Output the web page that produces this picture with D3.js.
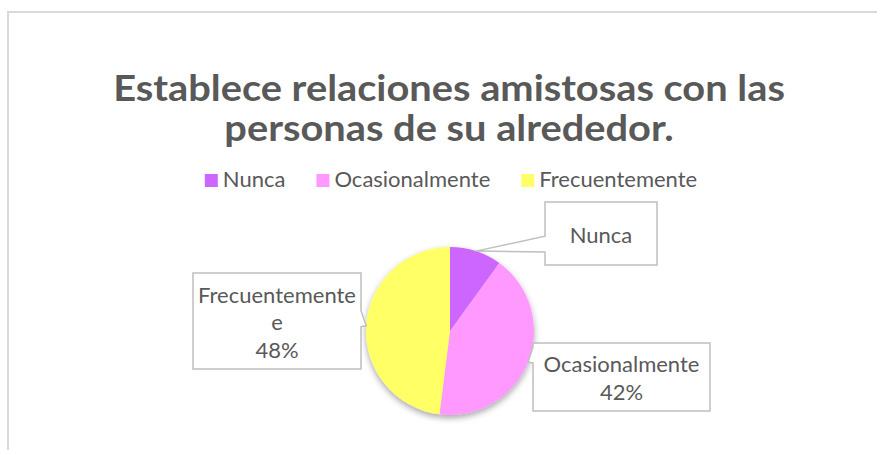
<!DOCTYPE html>
<html>
<head>
<meta charset="utf-8">
<script src="https://cdn.jsdelivr.net/npm/d3@7"></script>
<style>
  body { margin: 0; background: #fff; }
  svg { display: block; }
  text { font-family: Lato, "Noto Sans", sans-serif; fill: #595959; }
</style>
</head>
<body>
<svg id="chart" width="877" height="450"></svg>
<script>
// data
categories = ["Nunca", "Ocasionalmente", "Frecuentemente"]
values = [10, 42, 48]
colors = ["#CC66FF", "#FF99FF", "#FFFF66"]
titleLines = ["Establece relaciones amistosas con las", "personas de su alrededor."]
// label text as shown in the chart (Nunca has no percentage)
labelLines = [["Nunca"], ["Ocasionalmente", "42%"], ["Frecuentemente", "e", "48%"]]

const svg = d3.select("#chart")
const cx = 450, cy = 331, r = 84
const fs = 22

// chart area border
svg.append("rect").attr("x", 8).attr("y", 12).attr("width", 900).attr("height", 500)
  .attr("fill", "#fff").attr("stroke", "#d9d9d9").attr("stroke-width", 2)

// title, squeezed sideways to the original line width
const title = svg.append("g")
title.selectAll("text").data(titleLines).join("text")
  .attr("x", 0).attr("y", (d, i) => 101 + i * 40)
  .attr("text-anchor", "middle").attr("font-weight", "bold")
  .attr("font-size", 37).text(d => d)
const w0 = title.select("text").node().getComputedTextLength()
title.attr("transform", "translate(449,0) scale(" + (672 / w0) + ",1)")

// legend
const legend = svg.append("g")
const items = legend.selectAll("g").data(categories).join("g")
items.append("rect").attr("width", 13).attr("height", 13).attr("y", -13)
  .attr("fill", (d, i) => colors[i])
items.append("text").attr("x", 18).attr("font-size", fs).text(d => d)
let lx = 0
const gap = 31
items.each(function() {
  const g = d3.select(this)
  g.attr("transform", "translate(" + lx + ",0)")
  lx += 18 + g.select("text").node().getComputedTextLength() + gap
})
lx -= gap
legend.attr("transform", "translate(" + (451 - lx / 2) + ",187)")

// pie
const defs = svg.append("defs")
const f = defs.append("filter").attr("id", "shadow").attr("x", "-20%").attr("y", "-20%")
  .attr("width", "140%").attr("height", "140%")
f.append("feDropShadow").attr("dx", 0).attr("dy", 3).attr("stdDeviation", 3)
  .attr("flood-color", "#000").attr("flood-opacity", 0.35)

const pie = d3.pie().sort(null).value(d => d)
const arcs = pie(values)
const arc = d3.arc().innerRadius(0).outerRadius(r)

const pieG = svg.append("g").attr("transform", "translate(" + cx + "," + cy + ")")
  .attr("filter", "url(#shadow)")
pieG.selectAll("path").data(arcs).join("path")
  .attr("d", arc).attr("fill", (d, i) => colors[i])

// callout boxes (layout positions)
boxes = [
  {x: 545, y: 202, w: 112, h: 63},
  {x: 533, y: 343, w: 177, h: 68},
  {x: 193, y: 273, w: 168, h: 96}
]

const labels = svg.append("g")
arcs.forEach((a, i) => {
  const b = boxes[i]
  const mid = (a.startAngle + a.endAngle) / 2
  const tx = cx + Math.sin(mid) * r
  const ty = cy - Math.cos(mid) * r
  const cyw = Math.max(b.y + 8, Math.min(b.y + b.h - 8, ty - 7))
  let p = d3.path()
  if (tx < b.x) {
    p.moveTo(b.x, b.y); p.lineTo(b.x + b.w, b.y); p.lineTo(b.x + b.w, b.y + b.h)
    p.lineTo(b.x, b.y + b.h); p.lineTo(b.x, cyw + 8); p.lineTo(tx, ty); p.lineTo(b.x, cyw - 8)
  } else {
    p.moveTo(b.x, b.y); p.lineTo(b.x + b.w, b.y); p.lineTo(b.x + b.w, cyw - 8)
    p.lineTo(tx, ty); p.lineTo(b.x + b.w, cyw + 8); p.lineTo(b.x + b.w, b.y + b.h)
    p.lineTo(b.x, b.y + b.h)
  }
  p.closePath()
  labels.append("path").attr("d", p.toString()).attr("fill", "#fff")
    .attr("stroke", "#bfbfbf").attr("stroke-width", 1.5)
  const lines = labelLines[i]
  const lh = 27.5
  const y0 = b.y + b.h / 2 - (lines.length - 1) * lh / 2 + 9
  labels.append("g").selectAll("text").data(lines).join("text")
    .attr("x", b.x + b.w / 2).attr("y", (d, j) => y0 + j * lh)
    .attr("text-anchor", "middle").attr("font-size", fs).text(d => d)
})
</script>
</body>
</html>
